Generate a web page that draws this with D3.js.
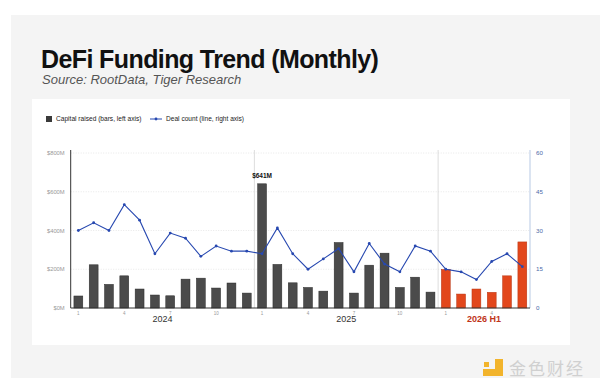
<!DOCTYPE html>
<html>
<head>
<meta charset="utf-8">
<script src="https://cdn.jsdelivr.net/npm/d3@7"></script>
<style>
  body { margin: 0; background: #fff; }
  svg { display: block; font-family: 'Liberation Sans', Arial, sans-serif; }
</style>
</head>
<body>
<svg id="chart" width="600" height="390"></svg>
<script>
// Monthly data, Jan 2024 .. Jun 2026
const months = [
  '2024-01', '2024-02', '2024-03', '2024-04', '2024-05', '2024-06',
  '2024-07', '2024-08', '2024-09', '2024-10', '2024-11', '2024-12',
  '2025-01', '2025-02', '2025-03', '2025-04', '2025-05', '2025-06',
  '2025-07', '2025-08', '2025-09', '2025-10', '2025-11', '2025-12',
  '2026-01', '2026-02', '2026-03', '2026-04', '2026-05', '2026-06'
];
// capital raised, $M
const capital = [62, 223, 122, 166, 98, 67, 63, 149, 154, 103, 129, 77,
  641, 225, 130, 106, 87, 338, 77, 221, 283, 106, 159, 82,
  199, 72, 98, 81, 166, 341];
// deal count
const deals = [30, 33, 30, 40, 34, 21, 29, 27, 20, 24, 22, 22,
  21, 31, 21, 15, 19, 23, 14, 25, 17, 14, 24, 22,
  15, 14, 11, 18, 21, 16];

const leftTicks = [0, 200, 400, 600, 800];
const rightTicks = [0, 15, 30, 45, 60];
const monthTicks = ['2024-01', '2024-04', '2024-07', '2024-10',
  '2025-01', '2025-04', '2025-07', '2025-10', '2026-01', '2026-04'];
const periods = [
  { label: '2024', from: '2024-01', to: '2024-12' },
  { label: '2025', from: '2025-01', to: '2025-12' },
  { label: '2026 H1', from: '2026-01', to: '2026-06' }
];

const svg = d3.select('#chart');

// Background panel and card
svg.append('rect').attr('x', 11).attr('y', 15).attr('width', 589).attr('height', 363)
  .attr('fill', '#f4f4f4');
svg.append('rect').attr('x', 32).attr('y', 99).attr('width', 538).attr('height', 246)
  .attr('fill', '#fff');

// Title
svg.append('text').attr('x', 41).attr('y', 68)
  .attr('font-size', 25).attr('font-weight', 'bold').attr('letter-spacing', -0.6)
  .attr('fill', '#111').text('DeFi Funding Trend (Monthly)');
svg.append('text').attr('x', 42).attr('y', 84)
  .attr('font-size', 13).attr('font-style', 'italic').attr('fill', '#555')
  .text('Source: RootData, Tiger Research');

// Scales
const plotL = 70.7, plotR = 530, plotT = 150, plotB = 308;
const x = d3.scaleBand().domain(months).range([plotL, plotR]).paddingInner(0.42).paddingOuter(0.21);
const yL = d3.scaleLinear().domain([0, 800]).range([plotB, plotT + 3]);
const yR = d3.scaleLinear().domain([0, 60]).range([plotB, plotT + 3]);
const step = x.step();

const g = svg.append('g');

// Gridlines
g.selectAll('.grid').data(leftTicks.slice(1)).enter().append('line')
  .attr('x1', plotL).attr('x2', plotR)
  .attr('y1', (d) => yL(d)).attr('y2', (d) => yL(d))
  .attr('stroke', '#d8d8d8').attr('stroke-width', 0.6).attr('stroke-dasharray', '1,1.5');

// Period dividers
g.selectAll('.divider').data(periods.slice(1)).enter().append('line')
  .attr('x1', (d) => x(d.from) - (step - x.bandwidth()) / 2)
  .attr('x2', (d) => x(d.from) - (step - x.bandwidth()) / 2)
  .attr('y1', plotT).attr('y2', plotB)
  .attr('stroke', '#d5d5d5').attr('stroke-width', 0.8);

// Bars
g.selectAll('.bar').data(months).enter().append('rect')
  .attr('x', (d) => x(d))
  .attr('y', (d, i) => yL(capital[i]))
  .attr('width', x.bandwidth())
  .attr('height', (d, i) => plotB - yL(capital[i]))
  .attr('fill', (d) => d >= '2026' ? '#e2471c' : '#4b4b4b')
  .attr('stroke', (d) => d >= '2026' ? '#b83512' : '#2a2a2a')
  .attr('stroke-width', 0.5);

// Peak label
const peak = d3.maxIndex(capital);
g.append('text')
  .attr('x', x(months[peak]) + x.bandwidth() / 2).attr('y', yL(capital[peak]) - 6)
  .attr('text-anchor', 'middle').attr('font-size', 6.5).attr('font-weight', 'bold')
  .attr('fill', '#111').text('$' + capital[peak] + 'M');

// Line
const line = d3.line()
  .x((d, i) => x(months[i]) + x.bandwidth() / 2)
  .y((d) => yR(d));
g.append('path').datum(deals).attr('d', line)
  .attr('fill', 'none').attr('stroke', '#2748b0').attr('stroke-width', 1.1);
g.selectAll('.dot').data(deals).enter().append('circle')
  .attr('cx', (d, i) => x(months[i]) + x.bandwidth() / 2)
  .attr('cy', (d) => yR(d)).attr('r', 1.4).attr('fill', '#2748b0');

// Axes lines
g.append('line').attr('x1', plotL).attr('x2', plotL).attr('y1', plotT).attr('y2', plotB)
  .attr('stroke', '#333').attr('stroke-width', 1);
g.append('line').attr('x1', plotR).attr('x2', plotR).attr('y1', plotT).attr('y2', plotB)
  .attr('stroke', '#b7c9e4').attr('stroke-width', 1);
g.append('line').attr('x1', plotL).attr('x2', plotR).attr('y1', plotB).attr('y2', plotB)
  .attr('stroke', '#333').attr('stroke-width', 1);

// Left axis labels
g.selectAll('.lab-l').data(leftTicks).enter().append('text')
  .attr('x', plotL - 6).attr('y', (d) => yL(d) + 2)
  .attr('text-anchor', 'end').attr('font-size', 5.8).attr('fill', '#999')
  .text((d) => '$' + d + 'M');

// Right axis labels
g.selectAll('.lab-r').data(rightTicks).enter().append('text')
  .attr('x', plotR + 6).attr('y', (d) => yR(d) + 2)
  .attr('font-size', 6.2).attr('fill', '#4a6aa8')
  .text((d) => d);

// Month ticks
g.selectAll('.lab-m').data(monthTicks).enter().append('text')
  .attr('x', (d) => x(d) + x.bandwidth() / 2).attr('y', 314.5)
  .attr('text-anchor', 'middle').attr('font-size', 4.5).attr('fill', '#999')
  .text((d) => +d.slice(5));

// Period labels
g.selectAll('.lab-p').data(periods).enter().append('text')
  .attr('x', (d) => (x(d.from) + x(d.to) + x.bandwidth()) / 2).attr('y', 322)
  .attr('text-anchor', 'middle').attr('font-size', 9)
  .attr('font-weight', (d) => d.label === '2026 H1' ? 'bold' : 'normal')
  .attr('fill', (d) => d.label === '2026 H1' ? '#c0341a' : '#333')
  .text((d) => d.label);

// Legend
const lg = svg.append('g').attr('font-size', 6.6).attr('fill', '#222');
lg.append('rect').attr('x', 46).attr('y', 116).attr('width', 6).attr('height', 6).attr('fill', '#3a3a3a');
lg.append('text').attr('x', 56).attr('y', 121.3).text('Capital raised (bars, left axis)');
lg.append('line').attr('x1', 150).attr('x2', 162).attr('y1', 119).attr('y2', 119)
  .attr('stroke', '#2748b0').attr('stroke-width', 1);
lg.append('circle').attr('cx', 156).attr('cy', 119).attr('r', 1.4).attr('fill', '#2748b0');
lg.append('text').attr('x', 166).attr('y', 121.3).text('Deal count (line, right axis)');

// Watermark logo
const wm = svg.append('g');
wm.append('path').attr('d', 'M495,359 h8 v17 h-20 v-7 h12 z').attr('fill', '#f2b42c');
wm.append('rect').attr('x', 484).attr('y', 362).attr('width', 5).attr('height', 5).attr('fill', '#f2b42c');
wm.append('text').attr('x', 509).attr('y', 375).attr('font-size', 17).attr('letter-spacing', 2)
  .attr('font-family', "'Noto Sans CJK SC', sans-serif").attr('fill', '#d0d0d0').text('金色财经');
</script>
</body>
</html>
